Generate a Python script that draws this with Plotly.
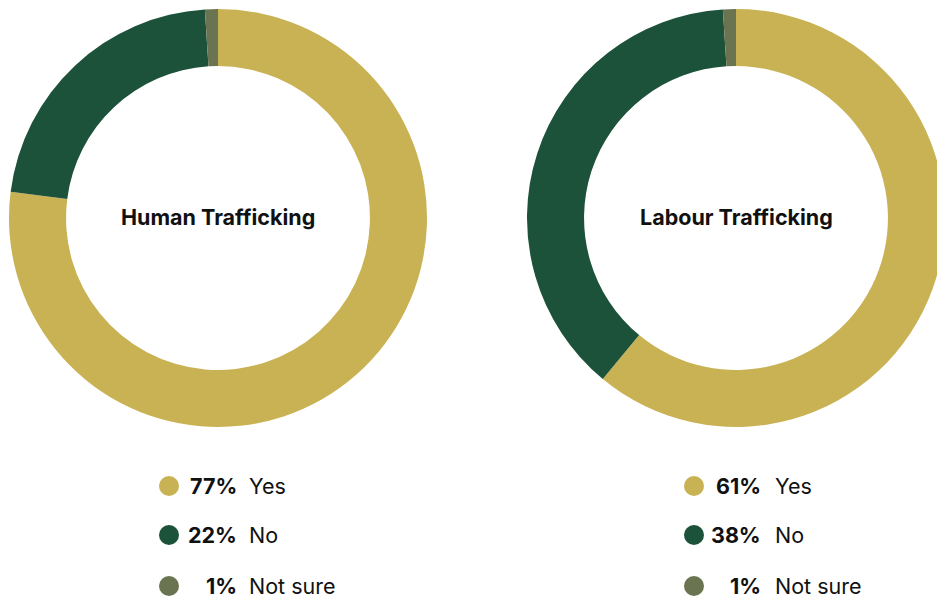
import plotly.graph_objects as go

# Survey answers per topic
categories = ["Yes", "No", "Not sure"]
topics = ["Human Trafficking", "Labour Trafficking"]
human_values = [77, 22, 1]
labour_values = [61, 38, 1]
colors = ["#C9B254", "#1C513A", "#6B7450"]

W, H = 955, 598
R = 209
centers = [(218, 218), (736, 218)]
legend_x = [(169, 239, 247), (694, 763, 773)]  # marker, pct right edge, label start
row_y = [486, 535, 586]

fig = go.Figure()

for (cx, cy), topic, vals in zip(centers, topics, [human_values, labour_values]):
    fig.add_trace(go.Pie(
        labels=categories,
        values=vals,
        hole=0.727,
        sort=False,
        direction="clockwise",
        rotation=0,
        marker=dict(colors=colors, line=dict(width=0)),
        textinfo="none",
        hoverinfo="label+percent",
        showlegend=False,
        domain=dict(x=[(cx - R) / W, (cx + R) / W],
                    y=[(H - cy - R) / H, (H - cy + R) / H]),
    ))
    fig.add_annotation(
        x=cx, y=cy - 1, xref="x", yref="y", text=f"<b>{topic}</b>",
        showarrow=False, font=dict(family="Inter", size=21.5, color="#111111"),
        xanchor="center", yanchor="middle",
    )

# Custom legends below each donut
for (mx, px, lx), vals in zip(legend_x, [human_values, labour_values]):
    fig.add_trace(go.Scatter(
        x=[mx] * len(categories), y=row_y, mode="markers",
        marker=dict(size=20, color=colors, line=dict(width=0)),
        hoverinfo="skip", showlegend=False,
    ))
    for cat, v, yy in zip(categories, vals, row_y):
        fig.add_annotation(
            x=px, y=yy, xref="x", yref="y", text=f"<b>{v}%</b>",
            showarrow=False, xanchor="right", yanchor="middle",
            font=dict(family="Inter", size=21.5, color="#111111"),
        )
        fig.add_annotation(
            x=lx, y=yy, xref="x", yref="y", text=cat,
            showarrow=False, xanchor="left", yanchor="middle",
            font=dict(family="Inter", size=21.5, color="#111111"),
        )

fig.update_layout(
    width=W, height=H,
    margin=dict(l=0, r=0, t=0, b=0),
    paper_bgcolor="white", plot_bgcolor="white",
    xaxis=dict(range=[0, W], visible=False, fixedrange=True),
    yaxis=dict(range=[H, 0], visible=False, fixedrange=True),
)

fig.write_html(
    "out.html",
    post_script="document.body.style.margin='0';document.body.style.overflow='hidden';"
                "document.documentElement.style.overflow='hidden';",
)
